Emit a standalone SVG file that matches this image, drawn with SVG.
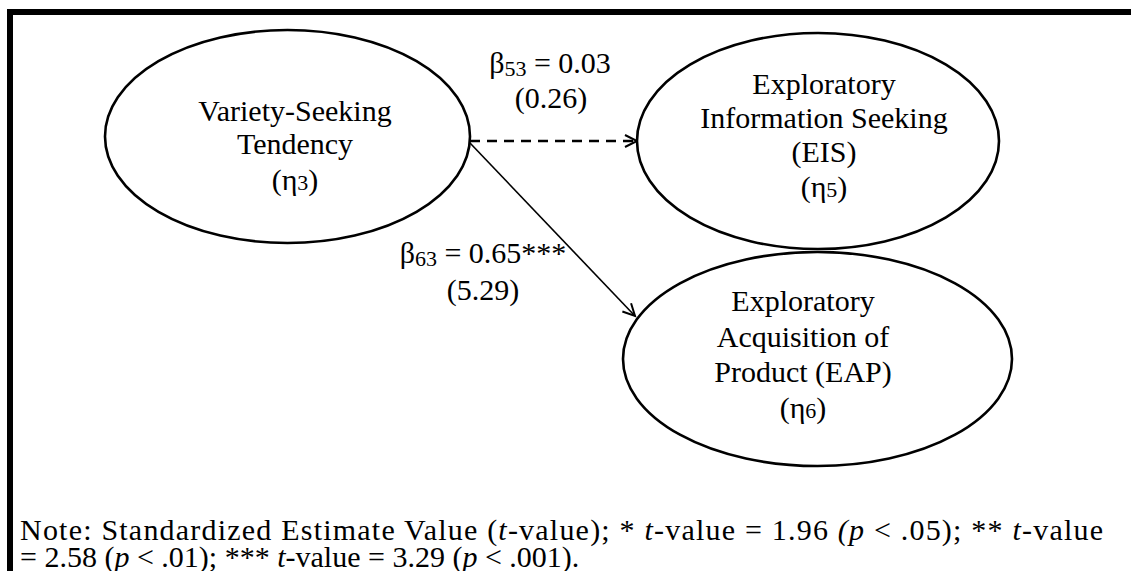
<svg xmlns="http://www.w3.org/2000/svg" width="1131" height="571" viewBox="0 0 1131 571">
  <style>
    .frame { fill: none; stroke: #000; stroke-width: 6; }
    .node ellipse { fill: #fff; stroke: #000; stroke-width: 2.6; }
    text { font-family: "Liberation Serif", "Times New Roman", serif; fill: #000; }
    .lbl { font-size: 30px; text-anchor: middle; }
    .sub { font-size: 22px; }
    .note { font-size: 30px; }
    .dash { fill: none; stroke: #000; stroke-width: 2.4; stroke-dasharray: 10 7; }
    .solid { fill: none; stroke: #000; stroke-width: 1.6; }
  </style>
  <defs>
    <marker id="open-arrow" markerUnits="userSpaceOnUse" markerWidth="16" markerHeight="16" refX="13" refY="7" orient="auto" viewBox="0 0 16 14">
      <path d="M1,1 L13,7 L1,13" fill="none" stroke="#000" stroke-width="2"/>
    </marker>
  </defs>

  <rect width="1131" height="571" fill="#fff"/>
  <!-- frame: top and left rules -->
  <path class="frame" d="M10,571 V12 H1131"/>

  <g id="connectors">
    <line class="dash" x1="470" y1="141" x2="637" y2="141" marker-end="url(#open-arrow)"/>
    <line class="solid" x1="470" y1="143" x2="635" y2="316" marker-end="url(#open-arrow)"/>
  </g>

  <g id="vst" class="node">
    <ellipse cx="287.5" cy="136.5" rx="182.5" ry="106.5"/>
    <text class="lbl" x="295" y="121">Variety-Seeking</text>
    <text class="lbl" x="295" y="154">Tendency</text>
    <text class="lbl" x="295" y="190">(η<tspan class="sub">3</tspan>)</text>
  </g>

  <g id="eis" class="node">
    <ellipse cx="818" cy="141" rx="181" ry="108"/>
    <text class="lbl" x="824" y="94">Exploratory</text>
    <text class="lbl" x="824" y="128">Information Seeking</text>
    <text class="lbl" x="824" y="162">(EIS)</text>
    <text class="lbl" x="824" y="197">(η<tspan class="sub">5</tspan>)</text>
  </g>

  <g id="eap" class="node">
    <ellipse cx="817.5" cy="359" rx="194.5" ry="107"/>
    <text class="lbl" x="803" y="311">Exploratory</text>
    <text class="lbl" x="803" y="347">Acquisition of</text>
    <text class="lbl" x="803" y="382">Product (EAP)</text>
    <text class="lbl" x="803" y="418">(η<tspan class="sub">6</tspan>)</text>
  </g>

  <g id="path-labels">
    <text class="lbl" x="550" y="73">β<tspan class="sub" dy="3">53</tspan><tspan dy="-3"> = 0.03</tspan></text>
    <text class="lbl" x="551" y="108">(0.26)</text>
    <text class="lbl" x="483" y="263">β<tspan class="sub" dy="3">63</tspan><tspan dy="-3"> = 0.65***</tspan></text>
    <text class="lbl" x="483" y="300">(5.29)</text>
  </g>

  <g id="note">
    <text class="note" x="20" y="540" textLength="1083" lengthAdjust="spacing">Note: Standardized Estimate Value (<tspan font-style="italic">t</tspan>-value); * <tspan font-style="italic">t</tspan>-value = 1.96 <tspan font-style="italic">(p</tspan> &lt; .05); ** <tspan font-style="italic">t</tspan>-value</text>
    <text class="note" x="20" y="567">= 2.58 (<tspan font-style="italic">p</tspan> &lt; .01); *** <tspan font-style="italic">t</tspan>-value = 3.29 (<tspan font-style="italic">p</tspan> &lt; .001).</text>
  </g>
</svg>
